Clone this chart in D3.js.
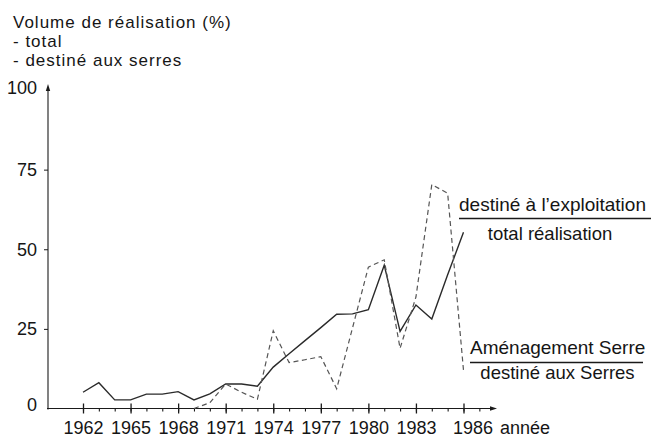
<!DOCTYPE html>
<html>
<head>
<meta charset="utf-8">
<script src="https://cdn.jsdelivr.net/npm/d3@7/dist/d3.min.js"></script>
<style>
  html, body { margin: 0; padding: 0; background: #fff; }
  svg { display: block; }
  text { font-family: "Liberation Sans", Arial, Helvetica, sans-serif; fill: #151515; }
</style>
</head>
<body>
<svg id="chart" width="651" height="437"></svg>
<script>
// ---- data ----
const years = [1962,1963,1964,1965,1966,1967,1968,1969,1970,1971,1972,1973,1974,
               1975,1976,1977,1978,1979,1980,1981,1982,1983,1984,1985,1986];
// destiné à l'exploitation / total réalisation (solid)
const totalValues = [5.1,8.1,2.7,2.7,4.5,4.5,5.3,2.7,4.6,7.7,7.7,7.0,13.0,
                     17.2,21.3,25.4,29.6,29.7,31.0,45.0,24.2,32.5,28.1,42.0,55.3];
// aménagement serre / destiné aux serres (dashed)
const serresValues = [null,null,null,null,null,null,null,0,1.8,7.7,5.1,2.9,24.4,
                      14.4,15.3,16.3,6.2,25.3,44.4,46.7,18.9,35.0,70.3,67.6,12.0];
const yTicks = [0,25,50,75,100];
const xMajorTicks = [1962,1965,1968,1971,1974,1977,1980,1983,1986];
const titleLines = ["Volume de réalisation (%)", "- total", "- destiné aux serres"];
const xAxisLabel = "année";
const labelSolid = ["destiné à l\u2019exploitation", "total réalisation"];
const labelDashed = ["Aménagement Serre", "destiné aux Serres"];

// ---- scales ----
const svg = d3.select("#chart");
const x = d3.scaleLinear().domain([1962, 1986]).range([83, 463.5]);
const y = d3.scaleLinear().domain([0, 100]).range([408.5, 90]);
const axisX0 = 48;
const ink = "#1a1a1a";

// ---- title ----
svg.append("g").selectAll("text").data(titleLines).join("text")
  .attr("x", 13).attr("y", (d, i) => 27.5 + i * 19)
  .attr("font-size", 17).attr("letter-spacing", 1)
  .text(d => d);

// ---- y axis ----
const yAxis = d3.axisLeft(y).tickValues(yTicks).tickSize(4).tickPadding(7);
const gy = svg.append("g").attr("transform", `translate(${axisX0},0)`).call(yAxis);
gy.select(".domain").remove();
gy.selectAll(".tick line").attr("stroke", ink).attr("stroke-width", 1)
  .filter(d => d === 0 || d === 100).remove();
gy.selectAll(".tick text").attr("font-size", 18).attr("fill", ink)
  .attr("font-family", "Liberation Sans, Arial, sans-serif");
gy.selectAll(".tick").filter(d => d === 0).select("text").attr("dy", "0.1em");
gy.selectAll(".tick").filter(d => d === 100).select("text").attr("dy", "0.2em");
svg.append("line").attr("x1", axisX0).attr("x2", axisX0)
  .attr("y1", y(0) + 1).attr("y2", y(100) - 3)
  .attr("stroke", ink).attr("stroke-width", 1.1);
svg.append("path")
  .attr("d", `M${axisX0},${y(100) - 6} L${axisX0 - 2.2},${y(100) + 1} L${axisX0 + 2.2},${y(100) + 1} Z`)
  .attr("fill", ink);

// ---- x axis ----
const xEnd = 497;
svg.append("line").attr("x1", axisX0 - 1).attr("x2", xEnd - 4)
  .attr("y1", y(0)).attr("y2", y(0)).attr("stroke", ink).attr("stroke-width", 1.1);
svg.append("path")
  .attr("d", `M${xEnd},${y(0)} L${xEnd - 7},${y(0) - 2.2} L${xEnd - 7},${y(0) + 2.2} Z`)
  .attr("fill", ink);

// minor ticks (every year)
const gxMinor = svg.append("g").attr("transform", `translate(0,${y(0)})`)
  .call(d3.axisBottom(x).tickValues(years.concat([1987])).tickSize(3).tickFormat(""));
gxMinor.select(".domain").remove();
gxMinor.selectAll(".tick line").attr("stroke", ink).attr("stroke-width", 1.1);

// major ticks
const gx = svg.append("g").attr("transform", `translate(0,${y(0)})`)
  .call(d3.axisBottom(x).tickValues(xMajorTicks).tickSize(5).tickFormat(d3.format("d")));
gx.select(".domain").remove();
gx.selectAll(".tick line").attr("y1", -5).attr("stroke", ink).attr("stroke-width", 1.3);
gx.selectAll(".tick text").attr("font-size", 18).attr("fill", ink)
  .attr("font-family", "Liberation Sans, Arial, sans-serif")
  .attr("y", 25.5).attr("dy", 0)
  .attr("dx", d => d === 1986 ? 9 : 0);
svg.append("text").attr("x", 500).attr("y", y(0) + 25.5)
  .attr("font-size", 18).text(xAxisLabel);

// ---- series ----
const pts = years.map((yr, i) => ({ yr, t: totalValues[i], s: serresValues[i] }));

const lineTotal = d3.line().x(d => x(d.yr)).y(d => y(d.t));
svg.append("path").datum(pts).attr("d", lineTotal)
  .attr("fill", "none").attr("stroke", "#2a2a2a").attr("stroke-width", 1.4)
  .attr("stroke-linejoin", "miter");

const lineSerres = d3.line().defined(d => d.s !== null).x(d => x(d.yr)).y(d => y(d.s));
svg.append("path").datum(pts).attr("d", lineSerres)
  .attr("fill", "none").attr("stroke", "#555").attr("stroke-width", 1.2)
  .attr("stroke-dasharray", "5,3.5");

// ---- ratio labels ----
function fraction(num, den, x0, x1, yNum, yBar, yDen, cx) {
  const g = svg.append("g");
  g.append("text").attr("x", x0).attr("y", yNum).attr("font-size", 19).text(num);
  g.append("line").attr("x1", x0).attr("x2", x1).attr("y1", yBar).attr("y2", yBar)
    .attr("stroke", ink).attr("stroke-width", 1.4);
  g.append("text").attr("x", cx).attr("y", yDen).attr("font-size", 18.5)
    .attr("text-anchor", "middle").text(den);
}
fraction(labelSolid[0], labelSolid[1], 459, 651, 211, 218.5, 239.5, 550);
fraction(labelDashed[0], labelDashed[1], 470, 643, 353.5, 362.5, 378.5, 557.5);
</script>
</body>
</html>
